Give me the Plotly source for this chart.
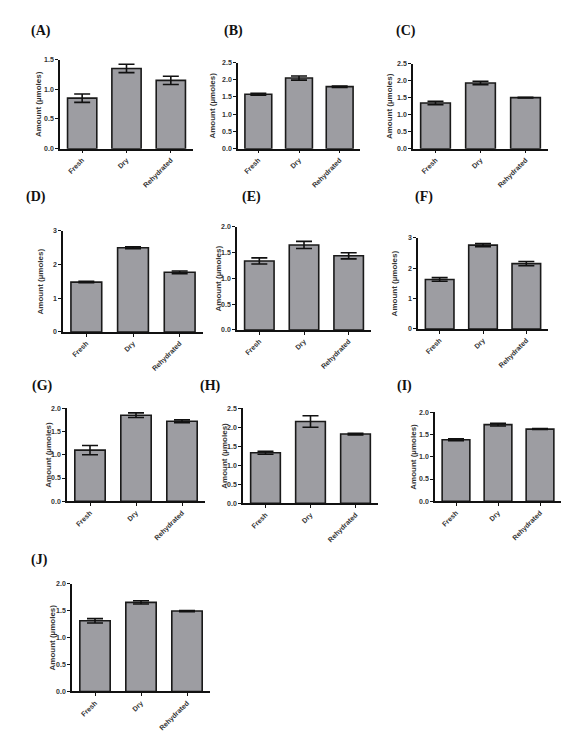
import plotly.graph_objects as go

W, H = 571, 738

categories = ["Fresh", "Dry", "Rehydrated"]
panel_labels = ["(A)", "(B)", "(C)", "(D)", "(E)", "(F)", "(G)", "(H)", "(I)", "(J)"]

means_A = [0.85, 1.35, 1.15]
err_A = [0.07, 0.07, 0.07]
means_B = [1.58, 2.05, 1.80]
err_B = [0.03, 0.06, 0.02]
means_C = [1.34, 1.93, 1.50]
err_C = [0.05, 0.05, 0.01]
means_D = [1.48, 2.50, 1.77]
err_D = [0.02, 0.03, 0.04]
means_E = [1.34, 1.65, 1.44]
err_E = [0.06, 0.07, 0.06]
means_F = [1.63, 2.76, 2.15]
err_F = [0.06, 0.05, 0.07]
means_G = [1.10, 1.85, 1.72]
err_G = [0.10, 0.05, 0.03]
means_H = [1.33, 2.15, 1.82]
err_H = [0.04, 0.15, 0.02]
means_I = [1.38, 1.72, 1.62]
err_I = [0.02, 0.03, 0.01]
means_J = [1.31, 1.65, 1.49]
err_J = [0.04, 0.03, 0.01]

y_max = [1.5, 2.5, 2.5, 3, 2.0, 3, 2.0, 2.5, 2.0, 2.0]
y_step = [0.5, 0.5, 0.5, 1, 0.5, 1, 0.5, 0.5, 0.5, 0.5]
y_fmt = [".1f", ".1f", ".1f", "d", ".1f", "d", ".1f", ".1f", ".1f", ".1f"]

means = [means_A, means_B, means_C, means_D, means_E, means_F, means_G, means_H, means_I, means_J]
errs = [err_A, err_B, err_C, err_D, err_E, err_F, err_G, err_H, err_I, err_J]

# plot boxes in pixels: left, right, top, bottom
boxes = [
    (52, 185, 48, 138),
    (230, 352, 51, 138),
    (405, 540, 52, 138),
    (55, 195, 221, 323),
    (229, 363, 217, 321),
    (410, 540, 228, 320),
    (59, 197, 400, 494),
    (235, 370, 400, 496),
    (427, 553, 404, 494),
    (64, 202, 577, 686),
]
label_pos = [(33, 19), (225, 19), (398, 19), (28, 187), (243, 187), (416, 187),
             (34, 378), (202, 378), (396, 378), (31, 553)]
ytitle_x = [30, 205, 381, 32, 210, 386, 41, 217, 406, 45]

BAR = "#9d9da2"
TXT = "#333333"

fig = go.Figure()
annotations = []
for i in range(10):
    n = "" if i == 0 else str(i + 1)
    l, r, t, b = boxes[i]
    fig.add_trace(go.Bar(
        x=categories, y=means[i],
        xaxis="x" + n, yaxis="y" + n,
        width=0.66,
        marker=dict(color=BAR, line=dict(color="#1a1a1a", width=1.6)),
        error_y=dict(type="data", array=errs[i], visible=True,
                     color="#111111", thickness=1.6, width=8),
        showlegend=False,
    ))
    fig.layout["xaxis" + n] = dict(
        domain=[l / W, r / W], anchor="y" + n,
        range=[-0.5, 2.5], showline=True, linecolor="#111111", linewidth=1.5,
        ticks="outside", ticklen=3, tickcolor="#111111", tickwidth=1,
        tickangle=-45, tickfont=dict(family="Liberation Sans, Arial", size=7,
                                     color=TXT, weight=700),
        showgrid=False, zeroline=False, fixedrange=True,
    )
    fig.layout["yaxis" + n] = dict(
        domain=[1 - b / H, 1 - t / H], anchor="x" + n,
        range=[0, y_max[i]], dtick=y_step[i], tick0=0, tickformat=y_fmt[i],
        showline=True, linecolor="#111111", linewidth=1.5,
        ticks="outside", ticklen=3, tickcolor="#111111", tickwidth=1,
        tickfont=dict(family="Liberation Sans, Arial", size=7, color=TXT, weight=700),
        showgrid=False, zeroline=False, fixedrange=True,
    )
    annotations.append(dict(
        text=panel_labels[i], x=label_pos[i][0] / W, y=1 - label_pos[i][1] / H,
        xref="paper", yref="paper", showarrow=False, xanchor="center", yanchor="middle",
        font=dict(family="Liberation Serif, Times New Roman", size=14, color="#111111",
                  weight=700),
    ))
    annotations.append(dict(
        text="Amount (\u00b5moles)", x=ytitle_x[i] / W, y=1 - (t + b) / 2 / H,
        xref="paper", yref="paper", showarrow=False, textangle=-90,
        xanchor="center", yanchor="middle",
        font=dict(family="Liberation Sans, Arial", size=8, color=TXT, weight=700),
    ))

fig.update_layout(
    width=W, height=H, margin=dict(l=0, r=0, t=0, b=0),
    paper_bgcolor="white", plot_bgcolor="white",
    annotations=annotations, bargap=0.34,
)
fig.write_html("out.html")
